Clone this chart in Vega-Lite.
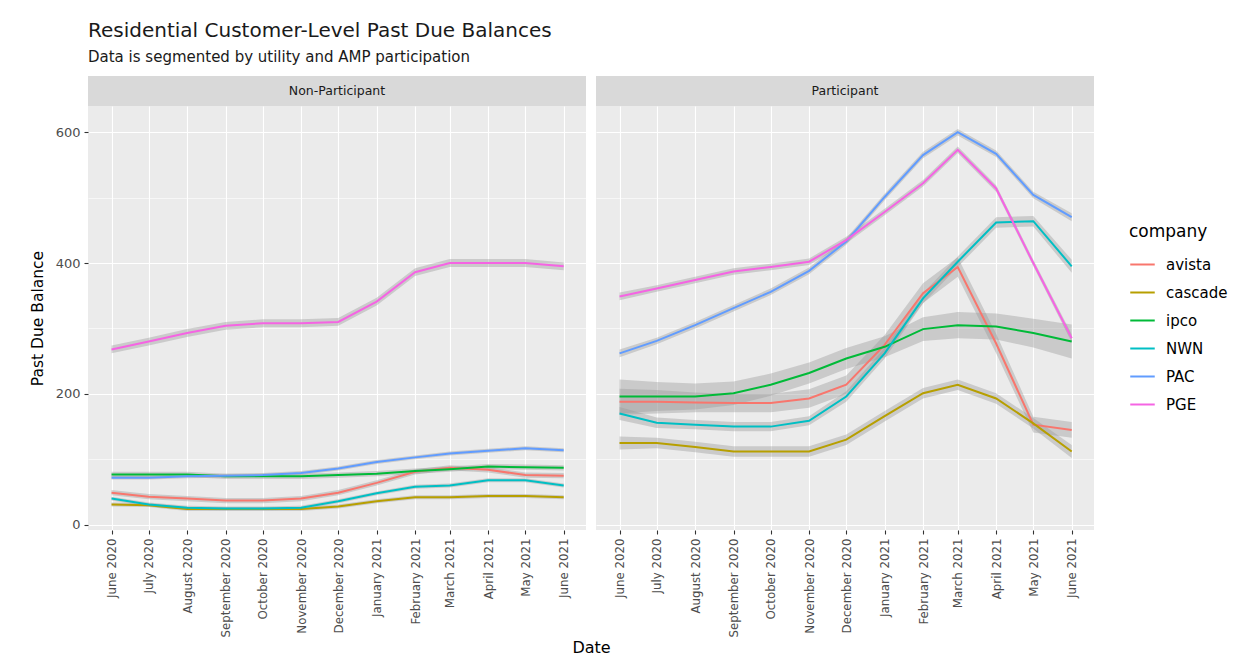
{
  "$schema": "https://vega.github.io/schema/vega-lite/v6.json",
  "background": "white",
  "padding": {"left": 30, "top": 21, "right": 5, "bottom": 3},
  "title": {
    "text": "Residential Customer-Level Past Due Balances",
    "subtitle": "Data is segmented by utility and AMP participation",
    "anchor": "start",
    "frame": "group",
    "fontSize": 20,
    "fontWeight": "normal",
    "color": "#1A1A1A",
    "subtitleFontSize": 15,
    "subtitleColor": "#1A1A1A",
    "subtitlePadding": 9,
    "offset": 11
  },
  "datasets": {
    "balances": [
      {"participation": "Non-Participant", "company": "avista", "date": "2020-06-01", "balance": 49, "lower": 45, "upper": 53},
      {"participation": "Non-Participant", "company": "avista", "date": "2020-07-01", "balance": 43, "lower": 39, "upper": 47},
      {"participation": "Non-Participant", "company": "avista", "date": "2020-08-01", "balance": 40, "lower": 36, "upper": 44},
      {"participation": "Non-Participant", "company": "avista", "date": "2020-09-01", "balance": 37, "lower": 33, "upper": 41},
      {"participation": "Non-Participant", "company": "avista", "date": "2020-10-01", "balance": 37, "lower": 33, "upper": 41},
      {"participation": "Non-Participant", "company": "avista", "date": "2020-11-01", "balance": 40, "lower": 36, "upper": 44},
      {"participation": "Non-Participant", "company": "avista", "date": "2020-12-01", "balance": 49, "lower": 45, "upper": 53},
      {"participation": "Non-Participant", "company": "avista", "date": "2021-01-01", "balance": 64, "lower": 60, "upper": 68},
      {"participation": "Non-Participant", "company": "avista", "date": "2021-02-01", "balance": 81, "lower": 77, "upper": 85},
      {"participation": "Non-Participant", "company": "avista", "date": "2021-03-01", "balance": 87, "lower": 83, "upper": 91},
      {"participation": "Non-Participant", "company": "avista", "date": "2021-04-01", "balance": 84, "lower": 80, "upper": 88},
      {"participation": "Non-Participant", "company": "avista", "date": "2021-05-01", "balance": 76, "lower": 72, "upper": 80},
      {"participation": "Non-Participant", "company": "avista", "date": "2021-06-01", "balance": 75, "lower": 71, "upper": 79},

      {"participation": "Non-Participant", "company": "cascade", "date": "2020-06-01", "balance": 31, "lower": 28, "upper": 34},
      {"participation": "Non-Participant", "company": "cascade", "date": "2020-07-01", "balance": 30, "lower": 27, "upper": 33},
      {"participation": "Non-Participant", "company": "cascade", "date": "2020-08-01", "balance": 24, "lower": 21, "upper": 27},
      {"participation": "Non-Participant", "company": "cascade", "date": "2020-09-01", "balance": 24, "lower": 21, "upper": 27},
      {"participation": "Non-Participant", "company": "cascade", "date": "2020-10-01", "balance": 24, "lower": 21, "upper": 27},
      {"participation": "Non-Participant", "company": "cascade", "date": "2020-11-01", "balance": 24, "lower": 21, "upper": 27},
      {"participation": "Non-Participant", "company": "cascade", "date": "2020-12-01", "balance": 28, "lower": 25, "upper": 31},
      {"participation": "Non-Participant", "company": "cascade", "date": "2021-01-01", "balance": 36, "lower": 33, "upper": 39},
      {"participation": "Non-Participant", "company": "cascade", "date": "2021-02-01", "balance": 42, "lower": 39, "upper": 45},
      {"participation": "Non-Participant", "company": "cascade", "date": "2021-03-01", "balance": 42, "lower": 39, "upper": 45},
      {"participation": "Non-Participant", "company": "cascade", "date": "2021-04-01", "balance": 44, "lower": 41, "upper": 47},
      {"participation": "Non-Participant", "company": "cascade", "date": "2021-05-01", "balance": 44, "lower": 41, "upper": 47},
      {"participation": "Non-Participant", "company": "cascade", "date": "2021-06-01", "balance": 42, "lower": 39, "upper": 45},

      {"participation": "Non-Participant", "company": "ipco", "date": "2020-06-01", "balance": 77, "lower": 73, "upper": 81},
      {"participation": "Non-Participant", "company": "ipco", "date": "2020-07-01", "balance": 77, "lower": 73, "upper": 81},
      {"participation": "Non-Participant", "company": "ipco", "date": "2020-08-01", "balance": 77, "lower": 73, "upper": 81},
      {"participation": "Non-Participant", "company": "ipco", "date": "2020-09-01", "balance": 74, "lower": 70, "upper": 78},
      {"participation": "Non-Participant", "company": "ipco", "date": "2020-10-01", "balance": 74, "lower": 70, "upper": 78},
      {"participation": "Non-Participant", "company": "ipco", "date": "2020-11-01", "balance": 74, "lower": 70, "upper": 78},
      {"participation": "Non-Participant", "company": "ipco", "date": "2020-12-01", "balance": 76, "lower": 72, "upper": 80},
      {"participation": "Non-Participant", "company": "ipco", "date": "2021-01-01", "balance": 78, "lower": 74, "upper": 82},
      {"participation": "Non-Participant", "company": "ipco", "date": "2021-02-01", "balance": 82, "lower": 78, "upper": 86},
      {"participation": "Non-Participant", "company": "ipco", "date": "2021-03-01", "balance": 85, "lower": 81, "upper": 89},
      {"participation": "Non-Participant", "company": "ipco", "date": "2021-04-01", "balance": 89, "lower": 85, "upper": 93},
      {"participation": "Non-Participant", "company": "ipco", "date": "2021-05-01", "balance": 88, "lower": 84, "upper": 92},
      {"participation": "Non-Participant", "company": "ipco", "date": "2021-06-01", "balance": 87, "lower": 83, "upper": 91},

      {"participation": "Non-Participant", "company": "NWN", "date": "2020-06-01", "balance": 40, "lower": 37, "upper": 43},
      {"participation": "Non-Participant", "company": "NWN", "date": "2020-07-01", "balance": 31, "lower": 28, "upper": 34},
      {"participation": "Non-Participant", "company": "NWN", "date": "2020-08-01", "balance": 26, "lower": 23, "upper": 29},
      {"participation": "Non-Participant", "company": "NWN", "date": "2020-09-01", "balance": 25, "lower": 22, "upper": 28},
      {"participation": "Non-Participant", "company": "NWN", "date": "2020-10-01", "balance": 25, "lower": 22, "upper": 28},
      {"participation": "Non-Participant", "company": "NWN", "date": "2020-11-01", "balance": 26, "lower": 23, "upper": 29},
      {"participation": "Non-Participant", "company": "NWN", "date": "2020-12-01", "balance": 36, "lower": 33, "upper": 39},
      {"participation": "Non-Participant", "company": "NWN", "date": "2021-01-01", "balance": 48, "lower": 45, "upper": 51},
      {"participation": "Non-Participant", "company": "NWN", "date": "2021-02-01", "balance": 58, "lower": 55, "upper": 61},
      {"participation": "Non-Participant", "company": "NWN", "date": "2021-03-01", "balance": 60, "lower": 57, "upper": 63},
      {"participation": "Non-Participant", "company": "NWN", "date": "2021-04-01", "balance": 68, "lower": 65, "upper": 71},
      {"participation": "Non-Participant", "company": "NWN", "date": "2021-05-01", "balance": 68, "lower": 65, "upper": 71},
      {"participation": "Non-Participant", "company": "NWN", "date": "2021-06-01", "balance": 60, "lower": 57, "upper": 63},

      {"participation": "Non-Participant", "company": "PAC", "date": "2020-06-01", "balance": 72, "lower": 69, "upper": 75},
      {"participation": "Non-Participant", "company": "PAC", "date": "2020-07-01", "balance": 72, "lower": 69, "upper": 75},
      {"participation": "Non-Participant", "company": "PAC", "date": "2020-08-01", "balance": 74, "lower": 71, "upper": 77},
      {"participation": "Non-Participant", "company": "PAC", "date": "2020-09-01", "balance": 75, "lower": 72, "upper": 78},
      {"participation": "Non-Participant", "company": "PAC", "date": "2020-10-01", "balance": 76, "lower": 73, "upper": 79},
      {"participation": "Non-Participant", "company": "PAC", "date": "2020-11-01", "balance": 79, "lower": 76, "upper": 82},
      {"participation": "Non-Participant", "company": "PAC", "date": "2020-12-01", "balance": 86, "lower": 83, "upper": 89},
      {"participation": "Non-Participant", "company": "PAC", "date": "2021-01-01", "balance": 96, "lower": 93, "upper": 99},
      {"participation": "Non-Participant", "company": "PAC", "date": "2021-02-01", "balance": 103, "lower": 100, "upper": 106},
      {"participation": "Non-Participant", "company": "PAC", "date": "2021-03-01", "balance": 109, "lower": 106, "upper": 112},
      {"participation": "Non-Participant", "company": "PAC", "date": "2021-04-01", "balance": 113, "lower": 110, "upper": 116},
      {"participation": "Non-Participant", "company": "PAC", "date": "2021-05-01", "balance": 117, "lower": 114, "upper": 120},
      {"participation": "Non-Participant", "company": "PAC", "date": "2021-06-01", "balance": 114, "lower": 111, "upper": 117},

      {"participation": "Non-Participant", "company": "PGE", "date": "2020-06-01", "balance": 268, "lower": 262, "upper": 274},
      {"participation": "Non-Participant", "company": "PGE", "date": "2020-07-01", "balance": 280, "lower": 274, "upper": 286},
      {"participation": "Non-Participant", "company": "PGE", "date": "2020-08-01", "balance": 293, "lower": 287, "upper": 299},
      {"participation": "Non-Participant", "company": "PGE", "date": "2020-09-01", "balance": 304, "lower": 298, "upper": 310},
      {"participation": "Non-Participant", "company": "PGE", "date": "2020-10-01", "balance": 308, "lower": 302, "upper": 314},
      {"participation": "Non-Participant", "company": "PGE", "date": "2020-11-01", "balance": 308, "lower": 302, "upper": 314},
      {"participation": "Non-Participant", "company": "PGE", "date": "2020-12-01", "balance": 310, "lower": 304, "upper": 316},
      {"participation": "Non-Participant", "company": "PGE", "date": "2021-01-01", "balance": 341, "lower": 335, "upper": 347},
      {"participation": "Non-Participant", "company": "PGE", "date": "2021-02-01", "balance": 386, "lower": 380, "upper": 392},
      {"participation": "Non-Participant", "company": "PGE", "date": "2021-03-01", "balance": 400, "lower": 394, "upper": 406},
      {"participation": "Non-Participant", "company": "PGE", "date": "2021-04-01", "balance": 400, "lower": 394, "upper": 406},
      {"participation": "Non-Participant", "company": "PGE", "date": "2021-05-01", "balance": 400, "lower": 394, "upper": 406},
      {"participation": "Non-Participant", "company": "PGE", "date": "2021-06-01", "balance": 395, "lower": 389, "upper": 401},

      {"participation": "Participant", "company": "avista", "date": "2020-06-01", "balance": 188, "lower": 168, "upper": 208},
      {"participation": "Participant", "company": "avista", "date": "2020-07-01", "balance": 188, "lower": 170, "upper": 206},
      {"participation": "Participant", "company": "avista", "date": "2020-08-01", "balance": 187, "lower": 172, "upper": 202},
      {"participation": "Participant", "company": "avista", "date": "2020-09-01", "balance": 186, "lower": 172, "upper": 200},
      {"participation": "Participant", "company": "avista", "date": "2020-10-01", "balance": 186, "lower": 172, "upper": 200},
      {"participation": "Participant", "company": "avista", "date": "2020-11-01", "balance": 193, "lower": 179, "upper": 207},
      {"participation": "Participant", "company": "avista", "date": "2020-12-01", "balance": 214, "lower": 200, "upper": 228},
      {"participation": "Participant", "company": "avista", "date": "2021-01-01", "balance": 275, "lower": 260, "upper": 290},
      {"participation": "Participant", "company": "avista", "date": "2021-02-01", "balance": 354, "lower": 339, "upper": 369},
      {"participation": "Participant", "company": "avista", "date": "2021-03-01", "balance": 394, "lower": 379, "upper": 409},
      {"participation": "Participant", "company": "avista", "date": "2021-04-01", "balance": 277, "lower": 262, "upper": 292},
      {"participation": "Participant", "company": "avista", "date": "2021-05-01", "balance": 153, "lower": 141, "upper": 165},
      {"participation": "Participant", "company": "avista", "date": "2021-06-01", "balance": 145, "lower": 133, "upper": 157},

      {"participation": "Participant", "company": "cascade", "date": "2020-06-01", "balance": 125, "lower": 115, "upper": 135},
      {"participation": "Participant", "company": "cascade", "date": "2020-07-01", "balance": 125, "lower": 117, "upper": 133},
      {"participation": "Participant", "company": "cascade", "date": "2020-08-01", "balance": 119, "lower": 111, "upper": 127},
      {"participation": "Participant", "company": "cascade", "date": "2020-09-01", "balance": 112, "lower": 104, "upper": 120},
      {"participation": "Participant", "company": "cascade", "date": "2020-10-01", "balance": 112, "lower": 104, "upper": 120},
      {"participation": "Participant", "company": "cascade", "date": "2020-11-01", "balance": 112, "lower": 104, "upper": 120},
      {"participation": "Participant", "company": "cascade", "date": "2020-12-01", "balance": 130, "lower": 122, "upper": 138},
      {"participation": "Participant", "company": "cascade", "date": "2021-01-01", "balance": 166, "lower": 158, "upper": 174},
      {"participation": "Participant", "company": "cascade", "date": "2021-02-01", "balance": 201, "lower": 193, "upper": 209},
      {"participation": "Participant", "company": "cascade", "date": "2021-03-01", "balance": 214, "lower": 206, "upper": 222},
      {"participation": "Participant", "company": "cascade", "date": "2021-04-01", "balance": 193, "lower": 185, "upper": 201},
      {"participation": "Participant", "company": "cascade", "date": "2021-05-01", "balance": 155, "lower": 147, "upper": 163},
      {"participation": "Participant", "company": "cascade", "date": "2021-06-01", "balance": 112, "lower": 102, "upper": 122},

      {"participation": "Participant", "company": "ipco", "date": "2020-06-01", "balance": 196, "lower": 170, "upper": 222},
      {"participation": "Participant", "company": "ipco", "date": "2020-07-01", "balance": 196, "lower": 174, "upper": 218},
      {"participation": "Participant", "company": "ipco", "date": "2020-08-01", "balance": 196, "lower": 176, "upper": 216},
      {"participation": "Participant", "company": "ipco", "date": "2020-09-01", "balance": 201, "lower": 183, "upper": 219},
      {"participation": "Participant", "company": "ipco", "date": "2020-10-01", "balance": 214, "lower": 197, "upper": 231},
      {"participation": "Participant", "company": "ipco", "date": "2020-11-01", "balance": 232, "lower": 216, "upper": 248},
      {"participation": "Participant", "company": "ipco", "date": "2020-12-01", "balance": 254, "lower": 238, "upper": 270},
      {"participation": "Participant", "company": "ipco", "date": "2021-01-01", "balance": 272, "lower": 256, "upper": 288},
      {"participation": "Participant", "company": "ipco", "date": "2021-02-01", "balance": 299, "lower": 281, "upper": 317},
      {"participation": "Participant", "company": "ipco", "date": "2021-03-01", "balance": 305, "lower": 285, "upper": 325},
      {"participation": "Participant", "company": "ipco", "date": "2021-04-01", "balance": 303, "lower": 283, "upper": 323},
      {"participation": "Participant", "company": "ipco", "date": "2021-05-01", "balance": 293, "lower": 271, "upper": 315},
      {"participation": "Participant", "company": "ipco", "date": "2021-06-01", "balance": 280, "lower": 254, "upper": 306},

      {"participation": "Participant", "company": "NWN", "date": "2020-06-01", "balance": 170, "lower": 160, "upper": 180},
      {"participation": "Participant", "company": "NWN", "date": "2020-07-01", "balance": 156, "lower": 148, "upper": 164},
      {"participation": "Participant", "company": "NWN", "date": "2020-08-01", "balance": 153, "lower": 146, "upper": 160},
      {"participation": "Participant", "company": "NWN", "date": "2020-09-01", "balance": 150, "lower": 143, "upper": 157},
      {"participation": "Participant", "company": "NWN", "date": "2020-10-01", "balance": 150, "lower": 143, "upper": 157},
      {"participation": "Participant", "company": "NWN", "date": "2020-11-01", "balance": 159, "lower": 152, "upper": 166},
      {"participation": "Participant", "company": "NWN", "date": "2020-12-01", "balance": 196, "lower": 188, "upper": 204},
      {"participation": "Participant", "company": "NWN", "date": "2021-01-01", "balance": 262, "lower": 254, "upper": 270},
      {"participation": "Participant", "company": "NWN", "date": "2021-02-01", "balance": 346, "lower": 338, "upper": 354},
      {"participation": "Participant", "company": "NWN", "date": "2021-03-01", "balance": 402, "lower": 394, "upper": 410},
      {"participation": "Participant", "company": "NWN", "date": "2021-04-01", "balance": 462, "lower": 454, "upper": 470},
      {"participation": "Participant", "company": "NWN", "date": "2021-05-01", "balance": 464, "lower": 456, "upper": 472},
      {"participation": "Participant", "company": "NWN", "date": "2021-06-01", "balance": 395, "lower": 385, "upper": 405},

      {"participation": "Participant", "company": "PAC", "date": "2020-06-01", "balance": 262, "lower": 256, "upper": 268},
      {"participation": "Participant", "company": "PAC", "date": "2020-07-01", "balance": 281, "lower": 276, "upper": 286},
      {"participation": "Participant", "company": "PAC", "date": "2020-08-01", "balance": 305, "lower": 300, "upper": 310},
      {"participation": "Participant", "company": "PAC", "date": "2020-09-01", "balance": 331, "lower": 326, "upper": 336},
      {"participation": "Participant", "company": "PAC", "date": "2020-10-01", "balance": 356, "lower": 351, "upper": 361},
      {"participation": "Participant", "company": "PAC", "date": "2020-11-01", "balance": 388, "lower": 383, "upper": 393},
      {"participation": "Participant", "company": "PAC", "date": "2020-12-01", "balance": 433, "lower": 428, "upper": 438},
      {"participation": "Participant", "company": "PAC", "date": "2021-01-01", "balance": 501, "lower": 496, "upper": 506},
      {"participation": "Participant", "company": "PAC", "date": "2021-02-01", "balance": 565, "lower": 560, "upper": 570},
      {"participation": "Participant", "company": "PAC", "date": "2021-03-01", "balance": 600, "lower": 595, "upper": 605},
      {"participation": "Participant", "company": "PAC", "date": "2021-04-01", "balance": 567, "lower": 562, "upper": 572},
      {"participation": "Participant", "company": "PAC", "date": "2021-05-01", "balance": 504, "lower": 499, "upper": 509},
      {"participation": "Participant", "company": "PAC", "date": "2021-06-01", "balance": 470, "lower": 464, "upper": 476},

      {"participation": "Participant", "company": "PGE", "date": "2020-06-01", "balance": 349, "lower": 343, "upper": 355},
      {"participation": "Participant", "company": "PGE", "date": "2020-07-01", "balance": 361, "lower": 356, "upper": 366},
      {"participation": "Participant", "company": "PGE", "date": "2020-08-01", "balance": 374, "lower": 369, "upper": 379},
      {"participation": "Participant", "company": "PGE", "date": "2020-09-01", "balance": 387, "lower": 382, "upper": 392},
      {"participation": "Participant", "company": "PGE", "date": "2020-10-01", "balance": 394, "lower": 389, "upper": 399},
      {"participation": "Participant", "company": "PGE", "date": "2020-11-01", "balance": 402, "lower": 397, "upper": 407},
      {"participation": "Participant", "company": "PGE", "date": "2020-12-01", "balance": 435, "lower": 430, "upper": 440},
      {"participation": "Participant", "company": "PGE", "date": "2021-01-01", "balance": 478, "lower": 473, "upper": 483},
      {"participation": "Participant", "company": "PGE", "date": "2021-02-01", "balance": 522, "lower": 517, "upper": 527},
      {"participation": "Participant", "company": "PGE", "date": "2021-03-01", "balance": 573, "lower": 568, "upper": 578},
      {"participation": "Participant", "company": "PGE", "date": "2021-04-01", "balance": 514, "lower": 509, "upper": 519},
      {"participation": "Participant", "company": "PGE", "date": "2021-05-01", "balance": 400, "lower": 395, "upper": 405},
      {"participation": "Participant", "company": "PGE", "date": "2021-06-01", "balance": 285, "lower": 279, "upper": 291}
    ]
  },
  "columns": 2,
  "bounds": "flush",
  "spacing": {"row": 0, "column": 10},
  "resolve": {
    "scale": {"x": "independent", "y": "independent", "color": "independent"},
    "legend": {"color": "independent"}
  },
  "concat": [
    {
      "width": 498, "height": 30,
      "view": {"fill": "#D9D9D9", "stroke": null},
      "data": {"values": [{"label": "Non-Participant"}]},
      "mark": {"type": "text", "fontSize": 12.5, "color": "#1A1A1A"},
      "encoding": {"text": {"field": "label", "type": "nominal"}}
    },
    {
      "width": 498, "height": 30,
      "view": {"fill": "#D9D9D9", "stroke": null},
      "data": {"values": [{"label": "Participant"}]},
      "mark": {"type": "text", "fontSize": 12.5, "color": "#1A1A1A"},
      "encoding": {"text": {"field": "label", "type": "nominal"}}
    },
    {
      "width": 498, "height": 424,
      "data": {"name": "balances"},
      "transform": [{"filter": "datum.participation === 'Non-Participant'"}],
      "encoding": {
        "x": {
          "field": "date", "type": "temporal",
          "scale": {"type": "utc", "domain": [{"year": 2020, "month": 5, "date": 13, "utc": true}, {"year": 2021, "month": 6, "date": 19, "utc": true}]},
          "axis": {
            "title": "Date", "titleX": 503, "titlePadding": 3, "titleFontSize": 16,
            "format": "%B %Y", "labelAngle": 270, "labelPadding": 4,
            "values": [
              {"year": 2020, "month": 6, "date": 1, "utc": true},
              {"year": 2020, "month": 7, "date": 1, "utc": true},
              {"year": 2020, "month": 8, "date": 1, "utc": true},
              {"year": 2020, "month": 9, "date": 1, "utc": true},
              {"year": 2020, "month": 10, "date": 1, "utc": true},
              {"year": 2020, "month": 11, "date": 1, "utc": true},
              {"year": 2020, "month": 12, "date": 1, "utc": true},
              {"year": 2021, "month": 1, "date": 1, "utc": true},
              {"year": 2021, "month": 2, "date": 1, "utc": true},
              {"year": 2021, "month": 3, "date": 1, "utc": true},
              {"year": 2021, "month": 4, "date": 1, "utc": true},
              {"year": 2021, "month": 5, "date": 1, "utc": true},
              {"year": 2021, "month": 6, "date": 1, "utc": true}
            ]
          }
        }
      },
      "layer": [
        {
          "mark": {"type": "area", "color": "#999999", "opacity": 0.4},
          "encoding": {
            "y": {
              "field": "lower", "type": "quantitative",
              "scale": {"domain": [-8, 640], "nice": false, "zero": false},
              "axis": {
                "title": "Past Due Balance", "titlePadding": 10, "titleFontSize": 15.5,
                "labelFontSize": 13, "labelPadding": 4,
                "values": [0, 100, 200, 300, 400, 500, 600],
                "labelExpr": "datum.value % 200 === 0 ? datum.label : ''",
                "gridWidth": {"condition": {"test": "datum.value % 200 !== 0", "value": 0.6}, "value": 1.2},
                "tickOpacity": {"condition": {"test": "datum.value % 200 !== 0", "value": 0}, "value": 1}
              }
            },
            "y2": {"field": "upper"},
            "detail": {"field": "company", "type": "nominal"}
          }
        },
        {
          "mark": {"type": "line", "strokeWidth": 2},
          "encoding": {
            "y": {"field": "balance", "type": "quantitative", "title": "Past Due Balance"},
            "color": {
              "field": "company", "type": "nominal",
              "scale": {"domain": ["avista", "cascade", "ipco", "NWN", "PAC", "PGE"], "range": ["#F8766D", "#B79F00", "#00BA38", "#00BFC4", "#619CFF", "#F564E3"]},
              "legend": null
            }
          }
        }
      ]
    },
    {
      "width": 498, "height": 424,
      "data": {"name": "balances"},
      "transform": [{"filter": "datum.participation === 'Participant'"}],
      "encoding": {
        "x": {
          "field": "date", "type": "temporal",
          "scale": {"type": "utc", "domain": [{"year": 2020, "month": 5, "date": 13, "utc": true}, {"year": 2021, "month": 6, "date": 19, "utc": true}]},
          "axis": {
            "title": null, "format": "%B %Y", "labelAngle": 270, "labelPadding": 4,
            "values": [
              {"year": 2020, "month": 6, "date": 1, "utc": true},
              {"year": 2020, "month": 7, "date": 1, "utc": true},
              {"year": 2020, "month": 8, "date": 1, "utc": true},
              {"year": 2020, "month": 9, "date": 1, "utc": true},
              {"year": 2020, "month": 10, "date": 1, "utc": true},
              {"year": 2020, "month": 11, "date": 1, "utc": true},
              {"year": 2020, "month": 12, "date": 1, "utc": true},
              {"year": 2021, "month": 1, "date": 1, "utc": true},
              {"year": 2021, "month": 2, "date": 1, "utc": true},
              {"year": 2021, "month": 3, "date": 1, "utc": true},
              {"year": 2021, "month": 4, "date": 1, "utc": true},
              {"year": 2021, "month": 5, "date": 1, "utc": true},
              {"year": 2021, "month": 6, "date": 1, "utc": true}
            ]
          }
        }
      },
      "layer": [
        {
          "mark": {"type": "area", "color": "#999999", "opacity": 0.4},
          "encoding": {
            "y": {
              "field": "lower", "type": "quantitative",
              "scale": {"domain": [-8, 640], "nice": false, "zero": false},
              "axis": {
                "title": null, "labels": false, "ticks": false,
                "values": [0, 100, 200, 300, 400, 500, 600],
                "gridWidth": {"condition": {"test": "datum.value % 200 !== 0", "value": 0.6}, "value": 1.2}
              }
            },
            "y2": {"field": "upper"},
            "detail": {"field": "company", "type": "nominal"}
          }
        },
        {
          "mark": {"type": "line", "strokeWidth": 2},
          "encoding": {
            "y": {"field": "balance", "type": "quantitative", "title": null},
            "color": {
              "field": "company", "type": "nominal",
              "scale": {"domain": ["avista", "cascade", "ipco", "NWN", "PAC", "PGE"], "range": ["#F8766D", "#B79F00", "#00BA38", "#00BFC4", "#619CFF", "#F564E3"]},
              "legend": {
                "title": "company", "orient": "none", "legendX": 533, "legendY": 118,
                "symbolType": "stroke", "symbolStrokeWidth": 2, "symbolSize": 600,
                "labelFontSize": 15, "titleFontSize": 17, "titleFontWeight": "normal",
                "titleColor": "#000000", "labelColor": "#000000", "titlePadding": 10,
                "rowPadding": 6, "labelOffset": 10
              }
            }
          }
        }
      ]
    }
  ],
  "config": {
    "font": "DejaVu Sans",
    "view": {"fill": "#EBEBEB", "stroke": null},
    "axis": {
      "domain": false, "gridColor": "#FFFFFF", "gridWidth": 1.1,
      "tickColor": "#333333", "tickSize": 4, "tickWidth": 1.1,
      "labelColor": "#4D4D4D", "labelFontSize": 12,
      "titleFontSize": 15, "titleFontWeight": "normal", "titleColor": "#000000"
    },
    "axisX": {"labelFontSize": 11.8}
  }
}
